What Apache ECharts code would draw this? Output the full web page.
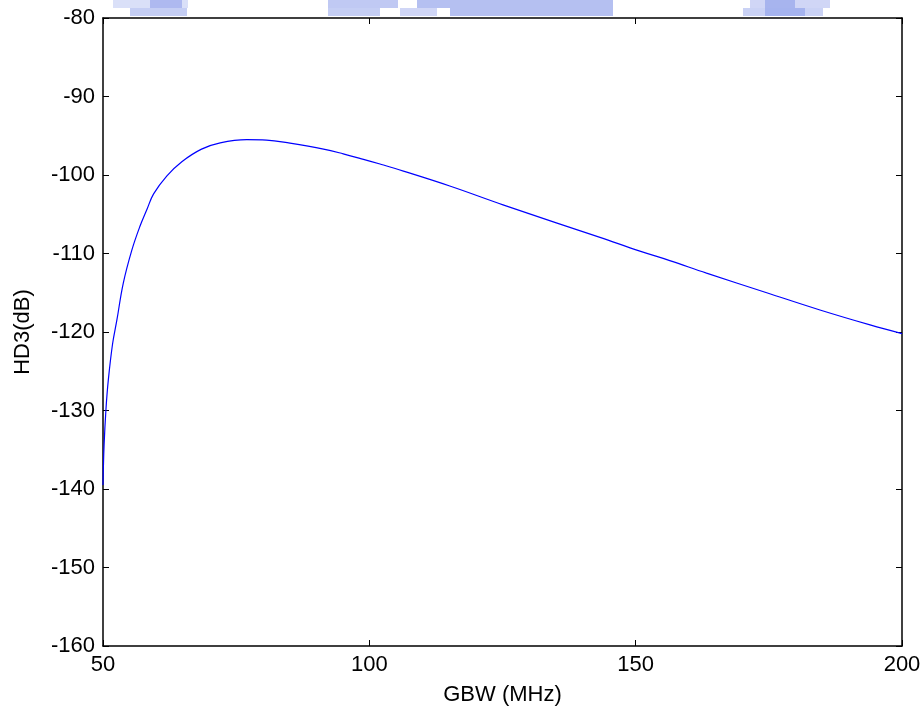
<!DOCTYPE html>
<html>
<head>
<meta charset="utf-8">
<script src="https://cdn.jsdelivr.net/npm/echarts@6/dist/echarts.min.js"></script>
<style>
  html, body { margin: 0; padding: 0; background: #fff; }
  #chart { width: 924px; height: 711px; }
</style>
</head>
<body>
<div id="chart"></div>
<script>
  // GBW sweep (MHz) and third harmonic distortion (dB)
  var gbw = [50.0, 50.2, 50.56, 51.0, 51.8, 52.6, 53.8, 55.4, 56.9, 58.3, 59.5, 62.0, 64.8, 68.5, 72.0, 77.0,
             80.7, 85.1, 91.4, 95.1, 98.9, 102.0, 106.4, 115.1, 125.1, 135.1, 143.3, 150.8, 156.4, 163.3,
             174.6, 184.6, 194.0, 200.0]
  var hd3 = [-139.5, -134.5, -129.8, -126.1, -121.5, -118.5, -113.8, -109.6, -106.6, -104.3, -102.4, -100.1,
             -98.3, -96.7, -95.9, -95.5, -95.55, -95.95, -96.7, -97.3, -98.0, -98.6, -99.5, -101.4, -103.8,
             -106.1, -107.95, -109.7, -110.9, -112.5, -115.0, -117.2, -119.1, -120.2]
  var xTicks = [50, 100, 150, 200]
  var yTicks = [-160, -150, -140, -130, -120, -110, -100, -90, -80]

  var points = gbw.map(function (x, i) { return [x, hd3[i]] })

  var font = 'Liberation Sans, Arial, sans-serif'
  var black = '#000'

  // faint scanned watermark blocks along the top edge
  var wm = [
    [113, 0, 75, 8, 0.35], [150, 0, 32, 8, 0.65], [130, 8, 57, 8, 0.55],
    [328, 0, 70, 8, 0.6], [417, 0, 196, 8, 0.7], [328, 8, 52, 8, 0.55],
    [400, 8, 37, 8, 0.45], [450, 8, 163, 8, 0.7],
    [750, 0, 80, 8, 0.45], [765, 0, 30, 8, 0.7], [743, 8, 80, 8, 0.5], [765, 8, 40, 8, 0.7]
  ]

  var chart = echarts.init(document.getElementById('chart'))
  chart.setOption({
    animation: false,
    backgroundColor: '#fff',
    graphic: wm.map(function (r) {
      return {
        type: 'rect', z: -10,
        shape: { x: r[0], y: r[1], width: r[2], height: r[3] },
        style: { fill: 'rgba(150,165,235,' + r[4] + ')' }
      }
    }),
    grid: { left: 103, right: 22, top: 18, bottom: 65, show: false },
    xAxis: [
      {
        type: 'value', min: xTicks[0], max: xTicks[xTicks.length - 1], interval: 50,
        name: 'GBW (MHz)', nameLocation: 'middle', nameGap: 38,
        nameTextStyle: { fontFamily: font, fontSize: 22, color: black },
        axisLine: { lineStyle: { color: black, width: 1.5 } },
        axisTick: { inside: true, length: 6, lineStyle: { color: black } },
        axisLabel: { fontFamily: font, fontSize: 22, color: black, margin: 8 },
        splitLine: { show: false }
      },
      {
        type: 'value', position: 'top', min: xTicks[0], max: xTicks[xTicks.length - 1], interval: 50,
        axisLine: { lineStyle: { color: black, width: 1.5 } },
        axisTick: { inside: true, length: 6, lineStyle: { color: black } },
        axisLabel: { show: false },
        splitLine: { show: false }
      }
    ],
    yAxis: [
      {
        type: 'value', min: yTicks[0], max: yTicks[yTicks.length - 1], interval: 10,
        name: 'HD3(dB)', nameLocation: 'middle', nameGap: 69, nameRotate: 90,
        nameTextStyle: { fontFamily: font, fontSize: 22, color: black },
        axisLine: { show: true, lineStyle: { color: black, width: 1.5 } },
        axisTick: { show: true, inside: true, length: 6, lineStyle: { color: black } },
        axisLabel: { fontFamily: font, fontSize: 22, color: black, margin: 8 },
        splitLine: { show: false }
      },
      {
        type: 'value', position: 'right', min: yTicks[0], max: yTicks[yTicks.length - 1], interval: 10,
        axisLine: { show: true, lineStyle: { color: black, width: 1.5 } },
        axisTick: { show: true, inside: true, length: 6, lineStyle: { color: black } },
        axisLabel: { show: false },
        splitLine: { show: false }
      }
    ],
    series: [
      {
        type: 'line',
        data: points,
        showSymbol: false,
        smooth: 0.4,
        lineStyle: { color: '#0000ff', width: 1.2 }
      }
    ]
  })
</script>
</body>
</html>
